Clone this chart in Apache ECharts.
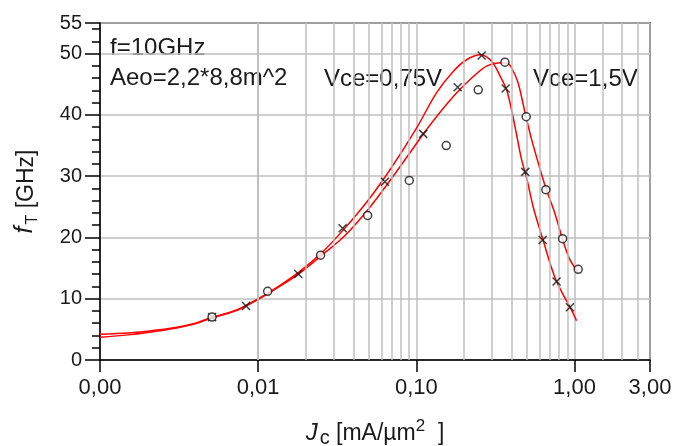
<!DOCTYPE html>
<html>
<head>
<meta charset="utf-8">
<script src="https://cdn.jsdelivr.net/npm/echarts@6/dist/echarts.min.js"></script>
<style>
html,body{margin:0;padding:0;background:#fff;}
#c{width:676px;height:446px;}
</style>
</head>
<body>
<div id="c"></div>
<script>
// Fitted curve, Vce = 0,75 V  [Jc (mA/µm²), fT (GHz)]
const curve075 = [[0.001,4.2],[0.0015,4.4],[0.002,4.7],[0.003,5.3],[0.004,6.0],[0.005,6.9],[0.007,8.0],[0.0085,9.0],[0.012,11.2],[0.018,14.3],[0.025,17.4],[0.035,21.4],[0.05,26.2],[0.07,31.5],[0.1,37.8],[0.134,43.6],[0.171,47.1],[0.208,49.0],[0.255,49.8],[0.30,48.7],[0.339,46.3],[0.373,44.0],[0.40,40.8],[0.43,36.8],[0.46,33.0],[0.50,29.5],[0.55,24.8],[0.632,19.6],[0.70,15.8],[0.77,12.8],[0.85,10.6],[0.934,8.7],[1.03,6.4]];
// Fitted curve, Vce = 1,5 V
const curve15 = [[0.001,3.7],[0.0015,4.1],[0.002,4.5],[0.003,5.2],[0.004,5.9],[0.005,6.8],[0.007,7.9],[0.0085,8.9],[0.012,11.1],[0.018,14.0],[0.025,17.0],[0.035,20.2],[0.05,24.7],[0.07,29.7],[0.1,35.3],[0.11,36.8],[0.14,40.3],[0.18,43.6],[0.23,46.3],[0.28,48.0],[0.34,48.5],[0.38,48.4],[0.40,47.7],[0.44,45.2],[0.49,40.0],[0.535,36.0],[0.60,31.5],[0.66,28.0],[0.75,24.0],[0.84,19.7],[0.93,16.5],[1.045,14.4]];
// Measured points (x markers), Vce = 0,75 V
const measured075 = [[0.00511,7.0],[0.00838,8.8],[0.01793,14.05],[0.0342,21.5],[0.0633,29.1],[0.1105,36.9],[0.1825,44.5],[0.2587,49.7],[0.3668,44.3],[0.488,30.7],[0.629,19.6],[0.770,12.8],[0.935,8.6]];
// Measured points (o markers), Vce = 1,5 V
const measured15 = [[0.00511,7.0],[0.01148,11.2],[0.0248,17.1],[0.0492,23.6],[0.0902,29.3],[0.1545,35.0],[0.2462,44.1],[0.363,48.6],[0.495,39.7],[0.659,27.8],[0.841,19.8],[1.055,14.8]];
// Axis ranges / ticks
const xRange = [0.001, 3];
const yRange = [0, 55];
const yMajorStep = 10;
const yMinorStep = 2;
const xMinorGrid = [0.002,0.003,0.004,0.005,0.006,0.007,0.008,0.009,0.02,0.03,0.04,0.05,0.06,0.07,0.08,0.09,0.2,0.3,0.4,0.5,0.6,0.7,0.8,0.9,1.5,2,2.5];
const annotations = ['f=10GHz', 'Aeo=2,2*8,8m^2', 'Vce=0,75V', 'Vce=1,5V'];

const FONT = '"Liberation Sans", Arial, sans-serif';
const TXT = '#1a1a1a';
const GRIDC = '#bfbfbf';

const chart = echarts.init(document.getElementById('c'), null, {renderer: 'canvas'});
chart.setOption({
  animation: false,
  backgroundColor: '#fff',
  grid: {left: 100, right: 26, top: 23, bottom: 86, show: true, borderColor: '#000', borderWidth: 1.5,
    backgroundColor: 'transparent', containLabel: false, outerBoundsMode: 'none'},
  xAxis: {
    type: 'log', logBase: 10, min: xRange[0], max: xRange[1],
    axisLine: {show: true, onZero: false, lineStyle: {color: '#000', width: 1.5}},
    axisTick: {show: true, length: 12, lineStyle: {color: '#000', width: 1.5}},
    minorTick: {show: false},
    splitLine: {show: true, lineStyle: {color: GRIDC, width: 1.5}},
    axisLabel: {color: TXT, fontSize: 22, fontFamily: FONT, margin: 17,
      formatter: v => v.toFixed(2).replace('.', ',')},
    name: '{j|J}{c|c}{n| [mA/µm}{s|2}{n|  ]}',
    nameLocation: 'middle', nameGap: 58,
    nameTextStyle: {color: TXT, fontFamily: FONT, rich: {
      j: {fontSize: 24, fontStyle: 'italic', fontFamily: FONT, color: TXT, verticalAlign: 'bottom'},
      c: {fontSize: 20, fontFamily: FONT, color: TXT, verticalAlign: 'bottom', padding: [0, 0, -3, 2]},
      n: {fontSize: 23, fontFamily: FONT, color: TXT, verticalAlign: 'bottom'},
      s: {fontSize: 17, fontFamily: FONT, color: TXT, verticalAlign: 'top', padding: [0, 0, 10, 0]}
    }}
  },
  yAxis: [{
    type: 'value', min: yRange[0], max: yRange[1], interval: yMajorStep,
    axisLine: {show: true, lineStyle: {color: '#000', width: 1.5}},
    axisTick: {show: true, length: 15, lineStyle: {color: '#000', width: 1.5}},
    splitLine: {show: true, lineStyle: {color: GRIDC, width: 1.5}},
    axisLabel: {color: TXT, fontSize: 20, fontFamily: FONT, margin: 18},
    name: '{f|f}{t|T}{n| [GHz]}',
    nameLocation: 'middle', nameRotate: 90, nameGap: 62,
    nameTextStyle: {color: TXT, fontFamily: FONT, rich: {
      f: {fontSize: 25, fontStyle: 'italic', fontFamily: FONT, color: TXT, verticalAlign: 'bottom'},
      t: {fontSize: 16, fontFamily: FONT, color: TXT, verticalAlign: 'bottom', padding: [0, 0, -3, 2]},
      n: {fontSize: 23, fontFamily: FONT, color: TXT, verticalAlign: 'bottom'}
    }}
  }, {
    type: 'value', min: yRange[0], max: yRange[1], interval: yMinorStep, position: 'left',
    axisLine: {show: false},
    axisTick: {show: true, length: 8, lineStyle: {color: '#000', width: 1.5}},
    splitLine: {show: false},
    axisLabel: {show: false}
  }],
  graphic: [
    {type: 'text', x: 110, y: 48, style: {text: annotations[0], fontSize: 24, fontFamily: FONT, fill: TXT, verticalAlign: 'middle'}},
    {type: 'text', x: 110, y: 78, style: {text: annotations[1], fontSize: 24, fontFamily: FONT, fill: TXT, verticalAlign: 'middle'}},
    {type: 'text', x: 324, y: 79, style: {text: annotations[2], fontSize: 24, fontFamily: FONT, fill: TXT, verticalAlign: 'middle'}},
    {type: 'text', x: 533, y: 79, style: {text: annotations[3], fontSize: 24, fontFamily: FONT, fill: TXT, verticalAlign: 'middle'}}
  ],
  series: [
    {type: 'line', data: [], z: 1, silent: true,
      markLine: {silent: true, symbol: ['none', 'none'], label: {show: false},
        lineStyle: {color: GRIDC, width: 1.5, type: 'solid'},
        data: xMinorGrid.map(v => ({xAxis: v}))}},
    {type: 'line', name: 'Vce=0,75V', data: curve075, smooth: 0.3, showSymbol: false, z: 3,
      lineStyle: {color: '#ff0000', width: 1.5}},
    {type: 'line', name: 'Vce=1,5V', data: curve15, smooth: 0.3, showSymbol: false, z: 3,
      lineStyle: {color: '#ff0000', width: 1.5}},
    {type: 'scatter', data: measured075, z: 5, symbol: 'path://M0,0L10,10M10,0L0,10', symbolSize: 8,
      itemStyle: {color: 'rgba(0,0,0,0)', borderColor: '#111', borderWidth: 1.5}},
    {type: 'scatter', data: measured15, z: 5, symbol: 'circle', symbolSize: 8,
      itemStyle: {color: '#fff', borderColor: '#111', borderWidth: 1.5}}
  ]
});
</script>
</body>
</html>
